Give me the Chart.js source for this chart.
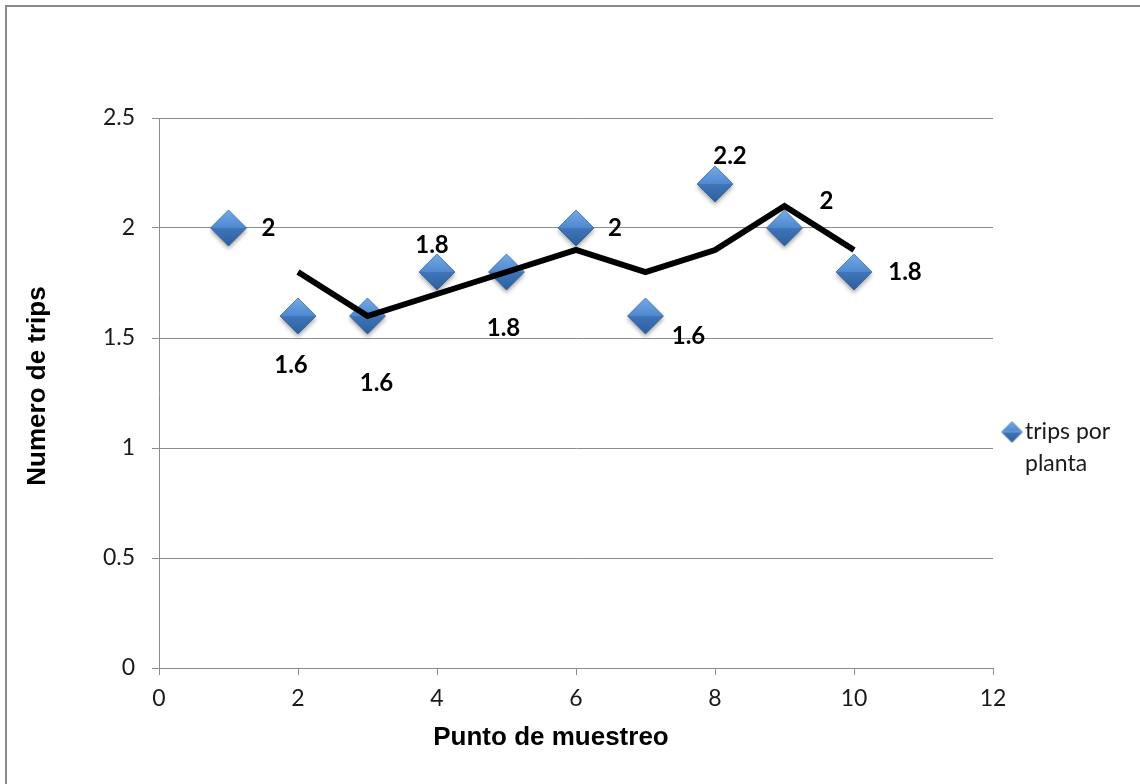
<!DOCTYPE html>
<html>
<head>
<meta charset="utf-8">
<title>Numero de trips por punto de muestreo</title>
<script src="https://cdn.jsdelivr.net/npm/chart.js@4/dist/chart.umd.min.js"></script>
<style>
  html, body { margin: 0; padding: 0; background: #ffffff; }
  #wrap { position: relative; width: 1140px; height: 784px; }
  canvas { display: block; }
</style>
</head>
<body>
<div id="wrap"><canvas id="grafico" width="1140" height="784"></canvas></div>
<script>
// Datos: trips por planta en cada punto de muestreo
const puntos = [1, 2, 3, 4, 5, 6, 7, 8, 9, 10];
const tripsPorPlanta = [2, 1.6, 1.6, 1.8, 1.8, 2, 1.6, 2.2, 2, 1.8];

// Línea de tendencia (media móvil de 2 períodos)
const mediaMovilPuntos = [2, 3, 4, 5, 6, 7, 8, 9, 10];
const mediaMovil = [1.8, 1.6, 1.7, 1.8, 1.9, 1.8, 1.9, 2.1, 1.9];

// Marcas de los ejes
const xTicks = [0, 2, 4, 6, 8, 10, 12];
const yTicks = [0, 0.5, 1, 1.5, 2, 2.5];

// Textos
const serieNombre = ['trips por', 'planta'];
const tituloX = 'Punto de muestreo';
const tituloY = 'Numero de trips';

// Desplazamiento (px) de cada etiqueta de valor respecto a su marcador
const desplazEtiquetas = [[40, 0], [-7, 49], [9, 67], [-5, -27], [-3, 56], [39, 0], [43, 20], [15, -28], [42, -27], [51, 0]];

const GRIS = '#8c8c8c';
const FUENTE = 'Lato, "Open Sans", sans-serif';

// Marcador en forma de rombo con biselado y sombra
function rombo(r, sombra) {
  const pad = 7;
  const s = Math.ceil(2 * r + 2 * pad);
  const c = document.createElement('canvas');
  c.width = s; c.height = s;
  const g = c.getContext('2d');
  const cx = s / 2, cy = s / 2;
  const trazo = () => {
    g.beginPath();
    g.moveTo(cx, cy - r); g.lineTo(cx + r, cy); g.lineTo(cx, cy + r); g.lineTo(cx - r, cy);
    g.closePath();
  };
  if (sombra) {
    g.save();
    g.shadowColor = 'rgba(0,0,0,0.35)';
    g.shadowBlur = 4;
    g.shadowOffsetY = 3;
    trazo(); g.fillStyle = '#3f75b5'; g.fill();
    g.restore();
  }
  // mitad superior, más clara
  let gr = g.createLinearGradient(0, cy - r, 0, cy);
  gr.addColorStop(0, '#74aae8'); gr.addColorStop(1, '#4e88cf');
  g.beginPath(); g.moveTo(cx - r, cy); g.lineTo(cx, cy - r); g.lineTo(cx + r, cy); g.closePath();
  g.fillStyle = gr; g.fill();
  // mitad inferior, más oscura
  gr = g.createLinearGradient(0, cy, 0, cy + r);
  gr.addColorStop(0, '#3f76ba'); gr.addColorStop(1, '#2d5f9e');
  g.beginPath(); g.moveTo(cx - r, cy); g.lineTo(cx + r, cy); g.lineTo(cx, cy + r); g.closePath();
  g.fillStyle = gr; g.fill();
  // borde suave
  trazo(); g.strokeStyle = 'rgba(40,80,140,0.6)'; g.lineWidth = 0.8; g.stroke();
  return c;
}

const marcador = rombo(18, true);
const marcadorLeyenda = rombo(10.5, false);

const decoracion = {
  id: 'decoracion',
  beforeDraw(chart) {
    const ctx = chart.ctx;
    ctx.save();
    ctx.fillStyle = '#ffffff';
    ctx.fillRect(0, 0, chart.width, chart.height);
    ctx.fillStyle = '#8a8a8a';
    ctx.fillRect(5, 5, chart.width - 5, 2);
    ctx.fillRect(5, 5, 2, chart.height - 5);
    ctx.restore();
  },
  afterDatasetsDraw(chart) {
    const ctx = chart.ctx;
    const meta = chart.getDatasetMeta(1);
    ctx.save();
    ctx.fillStyle = '#000000';
    ctx.font = 'bold 24px ' + FUENTE;
    ctx.textAlign = 'center';
    ctx.textBaseline = 'middle';
    meta.data.forEach((pt, i) => {
      const d = desplazEtiquetas[i];
      ctx.fillText(String(tripsPorPlanta[i]), pt.x + d[0], pt.y + d[1]);
    });
    ctx.restore();
  },
  afterDraw(chart) {
    const ctx = chart.ctx;
    ctx.save();
    ctx.fillStyle = '#000000';
    ctx.font = 'bold 26px "Liberation Sans", Arial, sans-serif';
    ctx.textAlign = 'center';
    ctx.textBaseline = 'middle';
    ctx.fillText(tituloX, 551, 738);
    ctx.translate(38, 386);
    ctx.rotate(-Math.PI / 2);
    ctx.fillText(tituloY, 0, 0);
    ctx.restore();

    // leyenda
    ctx.save();
    ctx.drawImage(marcadorLeyenda, 1012 - marcadorLeyenda.width / 2, 432 - marcadorLeyenda.height / 2);
    ctx.fillStyle = '#1a1a1a';
    ctx.font = '23px ' + FUENTE;
    ctx.textAlign = 'left';
    ctx.textBaseline = 'middle';
    ctx.fillText(serieNombre[0], 1025, 432);
    ctx.fillText(serieNombre[1], 1025, 464);
    ctx.restore();
  }
};

new Chart(document.getElementById('grafico'), {
  data: {
    datasets: [
      {
        type: 'line',
        label: 'Media móvil',
        data: mediaMovilPuntos.map((x, i) => ({ x: x, y: mediaMovil[i] })),
        borderColor: '#000000',
        borderWidth: 6,
        pointRadius: 0,
        tension: 0,
        fill: false,
        order: 1
      },
      {
        type: 'scatter',
        label: serieNombre.join(' '),
        data: puntos.map((x, i) => ({ x: x, y: tripsPorPlanta[i] })),
        pointStyle: marcador,
        pointRadius: 18,
        order: 2
      }
    ]
  },
  options: {
    responsive: false,
    animation: false,
    layout: { padding: { left: 0, top: 118, right: 147, bottom: 0 } },
    plugins: { legend: { display: false }, tooltip: { enabled: false } },
    scales: {
      x: {
        type: 'linear',
        min: 0, max: 12,
        afterBuildTicks: (s) => { s.ticks = xTicks.map(v => ({ value: v })); },
        afterFit: (s) => { s.height = 116; },
        grid: { drawOnChartArea: false, drawTicks: true, tickLength: 7, tickColor: GRIS },
        border: { color: GRIS, width: 1 },
        ticks: { font: { family: FUENTE, size: 23 }, color: '#1a1a1a', padding: 10, maxRotation: 0, callback: (v) => String(v) }
      },
      y: {
        type: 'linear',
        min: 0, max: 2.5,
        afterBuildTicks: (s) => { s.ticks = yTicks.map(v => ({ value: v })); },
        afterFit: (s) => { s.width = 159; },
        grid: { color: GRIS, drawTicks: true, tickLength: 7, tickColor: GRIS },
        border: { color: GRIS, width: 1 },
        ticks: { font: { family: FUENTE, size: 23 }, color: '#1a1a1a', padding: 17, callback: (v) => String(v) }
      }
    }
  },
  plugins: [decoracion]
});
</script>
</body>
</html>
